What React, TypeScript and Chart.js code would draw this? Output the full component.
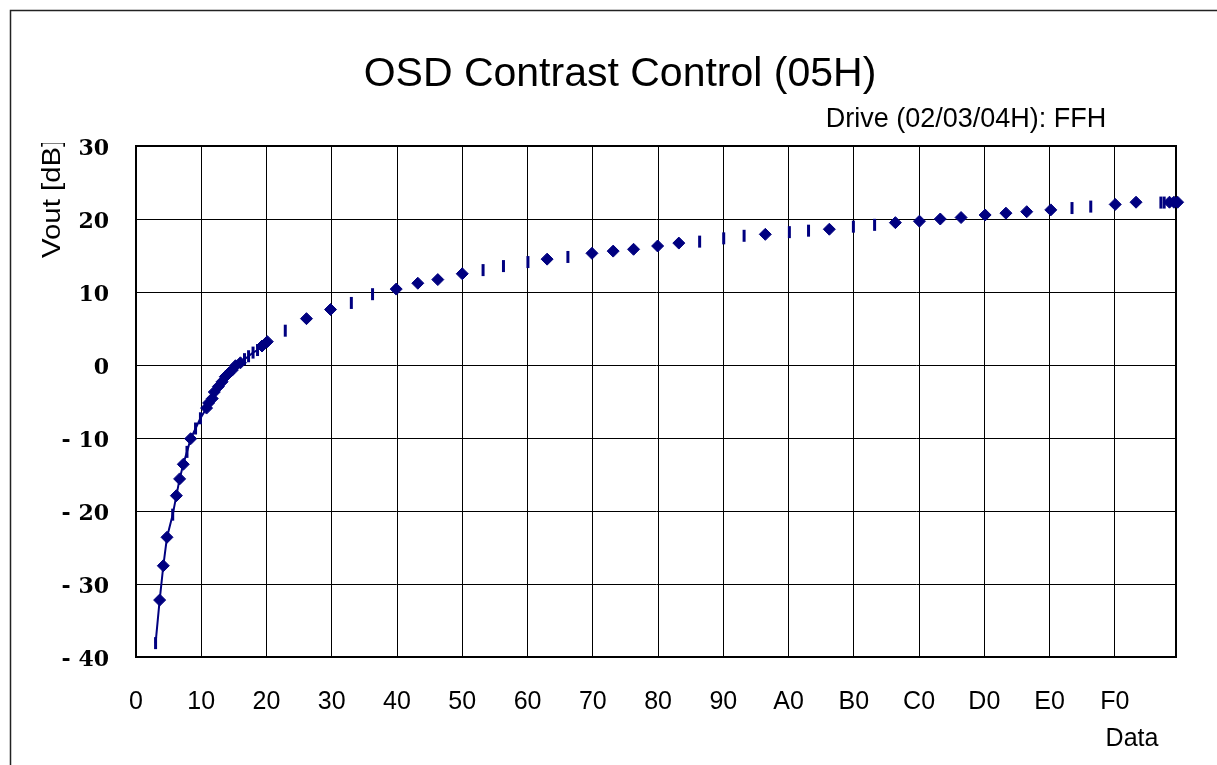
import { useEffect, useRef } from 'react';
import { Chart, registerables } from 'chart.js';

Chart.register(...registerables);

const TITLE = 'OSD Contrast Control (05H)';
const SUBTITLE = 'Drive (02/03/04H): FFH';
const Y_TITLE = 'Vout [dB]';
const X_TITLE = 'Data';

// Data register value (decimal) and output level in dB
const dataX = [
  4.8, 5.8, 6.7, 7.6, 9.0, 9.9, 10.7, 11.6, 12.5, 13.4,
  14.6, 15.8, 17.3, 17.8, 18.7, 19.2, 20.2, 21.1, 21.9, 22.8,
  23.6, 24.4, 25.6, 26.6, 27.6, 28.7, 29.8, 30.9, 32.2,
  36.6, 41.8, 47.7, 52.8, 58.0, 63.8, 69.1, 74.0, 80.0, 85.1,
  90.1, 96.1, 100.8, 105.9, 111.8, 117.0, 122.0, 127.9, 133.1, 138.2,
  144.1, 149.1, 154.3, 160.2, 164.9, 170.0, 175.9, 181.1, 186.2, 192.1,
  197.2, 202.3, 208.2, 213.3, 218.4, 224.3, 229.5, 234.1, 240.1, 245.2,
  251.3, 252.1, 253.4, 254.5, 255.4,
];
const dataY = [
  -38.1, -32.2, -27.5, -23.6, -20.5, -17.9, -15.6, -13.6, -11.9, -10.1,
  -8.7, -7.3, -5.9, -5.2, -4.6, -3.7, -2.95, -2.3, -1.6, -1.1,
  -0.7, -0.1, 0.3, 0.8, 1.2, 1.7, 2.05, 2.6, 3.2,
  4.7, 6.35, 7.6, 8.5, 9.7, 10.4, 11.2, 11.7, 12.5, 13.0,
  13.55, 14.1, 14.5, 14.8, 15.3, 15.6, 15.85, 16.3, 16.7, 16.9,
  17.35, 17.7, 17.9, 18.2, 18.4, 18.6, 18.95, 19.2, 19.5, 19.7,
  20.0, 20.2, 20.55, 20.8, 21.0, 21.25, 21.5, 21.7, 22.0, 22.3,
  22.25, 22.25, 22.3, 22.3, 22.3,
];
// D = diamond marker, L = marker rendered as a thin vertical dash
const markerKind = [
  'L', 'D', 'D', 'D', 'L', 'D', 'D', 'D', 'L', 'D',
  'L', 'L', 'D', 'D', 'D', 'D', 'D', 'D', 'D', 'D',
  'D', 'D', 'D', 'L', 'L', 'L', 'L', 'D', 'D',
  'L', 'D', 'D', 'L', 'L', 'D', 'D', 'D', 'D', 'L',
  'L', 'L', 'D', 'L', 'D', 'D', 'D', 'D', 'D', 'L',
  'L', 'L', 'D', 'L', 'L', 'D', 'L', 'L', 'D', 'D',
  'D', 'D', 'D', 'D', 'D', 'D', 'L', 'L', 'D', 'D',
  'L', 'L', 'D', 'D', 'D',
];

const xTickValues = [0, 16, 32, 48, 64, 80, 96, 112, 128, 144, 160, 176, 192, 208, 224, 240, 255];
const xTickLabels = ['0', '10', '20', '30', '40', '50', '60', '70', '80', '90', 'A0', 'B0', 'C0', 'D0', 'E0', 'F0', ''];
const yTickValues = [-40, -30, -20, -10, 0, 10, 20, 30];
const yTickLabels = ['- 40', '- 30', '- 20', '- 10', '0', '10', '20', '30'];

const NAVY = '#000080';
const SANS = '"Liberation Sans", Arial, sans-serif';

const decorPlugin = {
  id: 'decor',
  beforeDatasetsDraw(chart: any) {
    const { ctx, chartArea } = chart;
    ctx.save();
    ctx.strokeStyle = '#000';
    ctx.lineWidth = 2;
    ctx.strokeRect(chartArea.left, chartArea.top, chartArea.right - chartArea.left, chartArea.bottom - chartArea.top);
    ctx.restore();
  },
  afterDraw(chart: any) {
    const { ctx } = chart;
    ctx.save();
    // outer frame
    ctx.strokeStyle = '#222';
    ctx.lineWidth = 1.5;
    ctx.beginPath();
    ctx.moveTo(10.5, 2000);
    ctx.lineTo(10.5, 10.5);
    ctx.lineTo(2000, 10.5);
    ctx.stroke();

    ctx.fillStyle = '#000';
    ctx.textAlign = 'center';
    ctx.textBaseline = 'alphabetic';
    ctx.font = `41px ${SANS}`;
    ctx.fillText(TITLE, 620, 86);

    ctx.font = `27px ${SANS}`;
    ctx.fillText(SUBTITLE, 966, 127);

    ctx.font = `25px ${SANS}`;
    ctx.fillText(X_TITLE, 1132, 746);

    // y-axis title, clipped at the top
    ctx.beginPath();
    ctx.rect(0, 143, 200, 700);
    ctx.clip();
    ctx.translate(60, 258);
    ctx.rotate(-Math.PI / 2);
    ctx.scale(1.13, 1);
    ctx.font = `26px ${SANS}`;
    ctx.textAlign = 'left';
    ctx.fillText(Y_TITLE, 0, 0);
    ctx.restore();
  },
};

export default function App() {
  const ref = useRef<HTMLCanvasElement | null>(null);

  useEffect(() => {
    document.body.style.margin = '0';
    const canvas = ref.current;
    if (!canvas) return;
    const points = dataX.map((x, i) => ({ x, y: dataY[i] }));
    const chart = new Chart(canvas, {
      type: 'scatter',
      data: {
        datasets: [
          {
            data: points,
            showLine: true,
            borderColor: NAVY,
            borderWidth: 2,
            backgroundColor: NAVY,
            pointBackgroundColor: NAVY,
            pointBorderColor: NAVY,
            pointStyle: markerKind.map((k) => (k === 'D' ? 'rectRot' : 'line')) as any,
            pointRotation: markerKind.map((k) => (k === 'D' ? 0 : 90)),
            pointRadius: markerKind.map((k) => (k === 'D' ? 6 : 6)),
            pointBorderWidth: markerKind.map((k) => (k === 'D' ? 1 : 3)),
            segment: {
              borderColor: (c: any) => (c.p1.parsed.x > 33 ? 'rgba(0,0,0,0)' : NAVY),
            },
            clip: false as any,
          },
        ],
      },
      options: {
        animation: false,
        responsive: false,
        maintainAspectRatio: false,
        layout: { padding: { left: 0, right: 41, top: 146, bottom: 0 } },
        plugins: {
          legend: { display: false },
          tooltip: { enabled: false },
        },
        scales: {
          x: {
            type: 'linear',
            min: 0,
            max: 255,
            afterBuildTicks: (scale: any) => {
              scale.ticks = xTickValues.map((v) => ({ value: v }));
            },
            afterFit: (scale: any) => {
              scale.height = 108;
            },
            grid: { color: '#000', lineWidth: 1, drawTicks: false },
            border: { color: '#000', width: 2 },
            ticks: {
              autoSkip: false,
              maxRotation: 0,
              padding: 30,
              color: '#000',
              font: { family: SANS, size: 25 },
              callback: (_v: any, i: number) => xTickLabels[i],
            },
          },
          y: {
            type: 'linear',
            min: -40,
            max: 30,
            afterBuildTicks: (scale: any) => {
              scale.ticks = yTickValues.map((v) => ({ value: v }));
            },
            afterFit: (scale: any) => {
              scale.width = 136;
            },
            grid: { color: '#000', lineWidth: 1, drawTicks: false },
            border: { color: '#000', width: 2 },
            ticks: {
              padding: 27,
              labelOffset: 3,
              color: '#000',
              font: { family: '"DejaVu Serif", serif', size: 22, weight: 'bold' },
              callback: (_v: any, i: number) => yTickLabels[i],
            },
          },
        },
      },
      plugins: [decorPlugin],
    });
    return () => chart.destroy();
  }, []);

  return <canvas ref={ref} width={1217} height={765} style={{ display: 'block' }} />;
}
